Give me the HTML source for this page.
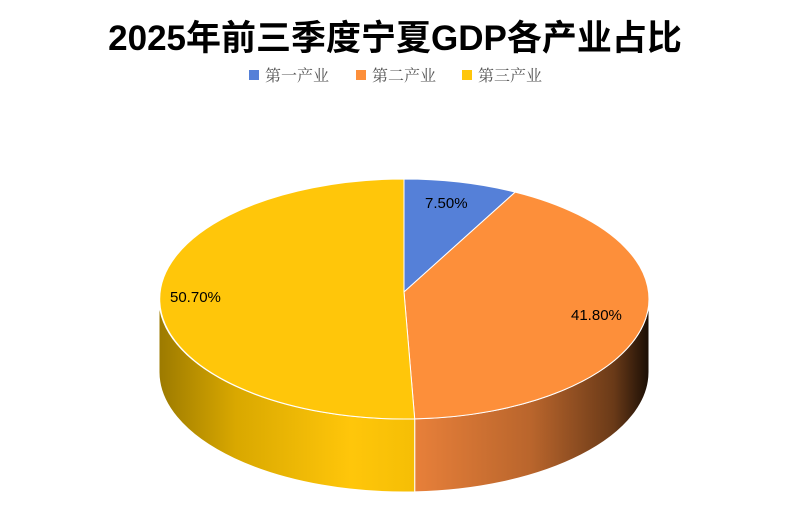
<!DOCTYPE html>
<html><head><meta charset="utf-8"><style>
body{margin:0;background:#fff;}
svg{display:block;}
</style></head><body>
<svg width="796" height="512" viewBox="0 0 796 512" xmlns="http://www.w3.org/2000/svg">
<defs>
<linearGradient id="go" x1="414" y1="0" x2="649" y2="0" gradientUnits="userSpaceOnUse">
<stop offset="0" stop-color="#e8803a"/><stop offset="0.5" stop-color="#b9652c"/><stop offset="0.85" stop-color="#6a3a18"/><stop offset="1" stop-color="#1a0e05"/>
</linearGradient>
<linearGradient id="gy" x1="159" y1="0" x2="415" y2="0" gradientUnits="userSpaceOnUse">
<stop offset="0" stop-color="#9c7a00"/><stop offset="0.3" stop-color="#d9a800"/><stop offset="0.75" stop-color="#ffc60a"/><stop offset="1" stop-color="#f5be05"/>
</linearGradient>
</defs>
<text x="395" y="50" text-anchor="middle" font-family="'Liberation Sans','Noto Sans CJK SC',sans-serif" font-weight="bold" font-size="35" fill="#000">2025年前三季度宁夏GDP各产业占比</text>
<g font-family="'Liberation Serif','Noto Serif CJK SC',serif" font-size="16" fill="#555">
<rect x="249" y="70" width="10" height="10" fill="#5580d8"/><text x="265" y="81">第一产业</text>
<rect x="356" y="70" width="10" height="10" fill="#fd8f3a"/><text x="372" y="81">第二产业</text>
<rect x="462" y="70" width="10" height="10" fill="#ffc60a"/><text x="478" y="81">第三产业</text>
</g>
<path d="M649,299 A245,120 0 0,1 414.7,418.9 L414.7,491.9 A245,120 0 0,0 649,372 Z" fill="url(#go)" stroke="#fff" stroke-width="1"/>
<path d="M414.7,418.9 A245,120 0 0,1 159,299 L159,372 A245,120 0 0,0 414.7,491.9 Z" fill="url(#gy)" stroke="#fff" stroke-width="1"/>
<path d="M404,292 L404,179 A245,120 0 0,1 515.2,192.1 Z" fill="#5580d8" stroke="#fff" stroke-width="1"/>
<path d="M404,292 L515.2,192.1 A245,120 0 0,1 414.7,418.9 Z" fill="#fd8f3a" stroke="#fff" stroke-width="1"/>
<path d="M404,292 L414.7,418.9 A245,120 0 1,1 404,179 Z" fill="#ffc60a" stroke="#fff" stroke-width="1"/>
<g font-family="'Liberation Sans',sans-serif" font-size="15" fill="#000">
<text x="425" y="208">7.50%</text>
<text x="571" y="320">41.80%</text>
<text x="170" y="302">50.70%</text>
</g>
</svg>
</body></html>
